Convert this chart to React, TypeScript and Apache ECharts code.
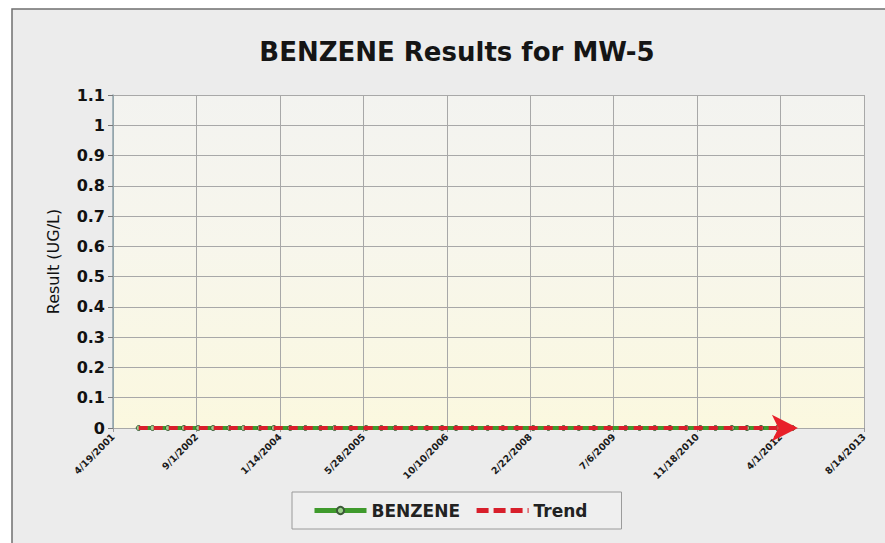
import React, { useEffect, useRef } from "react";
import * as echarts from "echarts";

const sampleDates: string[] = [
  "2001-09-20", "2001-12-12", "2002-03-14", "2002-06-18", "2002-09-12", "2002-12-10",
  "2003-03-18", "2003-06-10", "2003-09-16", "2003-12-09", "2004-03-16", "2004-06-15",
  "2004-09-14", "2004-12-07", "2005-03-15", "2005-06-14", "2005-09-13", "2005-12-06",
  "2006-03-14", "2006-06-13", "2006-09-12", "2006-12-05", "2007-03-13", "2007-06-12",
  "2007-09-11", "2007-12-04", "2008-03-11", "2008-06-10", "2008-09-09", "2008-12-09",
  "2009-03-10", "2009-06-09", "2009-09-15", "2009-12-08", "2010-03-09", "2010-06-08",
  "2010-09-14", "2010-12-07", "2011-03-08", "2011-06-14", "2011-09-13", "2011-12-06",
  "2012-03-13", "2012-06-12",
];
const benzeneValues: number[] = [
  0, 0, 0, 0, 0, 0, 0, 0, 0, 0, 0, 0,
  0, 0, 0, 0, 0, 0, 0, 0, 0, 0, 0, 0,
  0, 0, 0, 0, 0, 0, 0, 0, 0, 0, 0, 0,
  0, 0, 0, 0, 0, 0, 0, 0,
];
const trendDates: string[] = ["2001-09-20", "2012-07-14"];
const trendValues: number[] = [0, 0];

const axisStartDate = "2001-04-19";
const xTickDays = 500;
const xTickCount = 9;
const yMax = 1.1;
const yStep = 0.1;

const FONT = "DejaVu Sans, Verdana, sans-serif";
const DAY = 86400000;
const toMs = (s: string) => {
  const [y, m, d] = s.split("-").map(Number);
  return Date.UTC(y, m - 1, d);
};
const baseMs = toMs(axisStartDate);
const toDays = (s: string) => Math.round((toMs(s) - baseMs) / DAY);
const fmtDay = (v: number) => {
  const dt = new Date(baseMs + v * DAY);
  return `${dt.getUTCMonth() + 1}/${dt.getUTCDate()}/${dt.getUTCFullYear()}`;
};

export default function App() {
  const ref = useRef<HTMLDivElement>(null);
  useEffect(() => {
    if (!ref.current) return;
    const chart = echarts.init(ref.current, undefined, { renderer: "svg" });
    const benzeneData = sampleDates.map((d, i) => [toDays(d), benzeneValues[i]]);
    const trendData = trendDates.map((d, i) => [toDays(d), trendValues[i]]);
    const trendEnd = trendData[trendData.length - 1];
    chart.setOption({
      animation: false,
      backgroundColor: "#ffffff",
      textStyle: { fontFamily: FONT },
      graphic: [
        {
          type: "rect",
          z: -10,
          silent: true,
          shape: { x: 12, y: 9, width: 890, height: 545 },
          style: { fill: "#ececec", stroke: "#6f6f6f", lineWidth: 1.5 },
        },
      ],
      title: {
        text: "BENZENE Results for MW-5",
        left: 452,
        textAlign: "center",
        top: 34,
        textStyle: { fontSize: 26, fontWeight: "bold", color: "#151515", fontFamily: FONT },
      },
      grid: {
        left: 113,
        right: 21,
        top: 95,
        bottom: 115,
        show: true,
        borderWidth: 0,
        backgroundColor: new echarts.graphic.LinearGradient(0, 0, 0, 1, [
          { offset: 0, color: "#f3f3f0" },
          { offset: 0.45, color: "#f7f6ec" },
          { offset: 1, color: "#fbf8df" },
        ]),
      },
      legend: {
        left: 292,
        top: 492,
        orient: "horizontal",
        padding: [10, 34, 10, 20],
        itemGap: 14,
        itemWidth: 52,
        itemHeight: 9,
        borderColor: "#9a9a9a",
        borderWidth: 1,
        backgroundColor: "#efefef",
        textStyle: { fontSize: 17, fontWeight: "bold", color: "#222", fontFamily: FONT },
        data: [
          { name: "BENZENE", lineStyle: { width: 5 } },
          { name: "Trend", itemStyle: { opacity: 0 }, lineStyle: { width: 5, type: [12, 5] } },
        ],
      },
      xAxis: {
        type: "value",
        min: 0,
        max: xTickDays * xTickCount,
        interval: xTickDays,
        axisLine: { show: false },
        axisTick: { show: true, length: 4, lineStyle: { color: "#999" } },
        splitLine: { show: true, lineStyle: { color: "#a8a8a8", width: 1 } },
        axisLabel: {
          rotate: 45,
          margin: 7,
          fontSize: 9.5,
          fontWeight: "bold",
          color: "#1a1a1a",
          fontFamily: FONT,
          formatter: (v: number) => fmtDay(v),
        },
      },
      yAxis: {
        type: "value",
        min: 0,
        max: yMax,
        interval: yStep,
        name: "Result (UG/L)",
        nameLocation: "middle",
        nameRotate: 90,
        nameGap: 52,
        nameTextStyle: { fontSize: 16, color: "#111", fontFamily: FONT },
        axisLine: { show: true, lineStyle: { color: "#8fa4ad", width: 1.5 } },
        axisTick: { show: true, length: 5, lineStyle: { color: "#777" } },
        splitLine: { show: true, lineStyle: { color: "#a8a8a8", width: 1 } },
        axisLabel: {
          margin: 8,
          fontSize: 16,
          fontWeight: "bold",
          color: "#111",
          fontFamily: FONT,
          formatter: (v: number) => String(Math.round(v * 10) / 10),
        },
      },
      series: [
        {
          name: "BENZENE",
          type: "line",
          data: benzeneData,
          symbol: "circle",
          symbolSize: 5,
          itemStyle: { color: "#9bd08a", borderColor: "#3c5a38", borderWidth: 1 },
          lineStyle: { color: "#3f9a2c", width: 4 },
          z: 2,
        },
        {
          name: "Trend",
          type: "line",
          data: trendData,
          symbol: "none",
          itemStyle: { color: "#e11f2a" },
          lineStyle: { color: "#d81f2b", width: 4, type: [9, 6] },
          markPoint: {
            silent: true,
            label: { show: false },
            data: [
              {
                coord: trendEnd,
                symbol: "arrow",
                symbolSize: [20, 26],
                symbolRotate: -90,
                symbolOffset: [0, 0],
                itemStyle: { color: "#e8202a" },
              },
            ],
          },
          z: 3,
        },
      ],
    });
    return () => chart.dispose();
  }, []);
  return <div ref={ref} style={{ position: "absolute", left: 0, top: 0, width: 885, height: 543 }} />;
}
